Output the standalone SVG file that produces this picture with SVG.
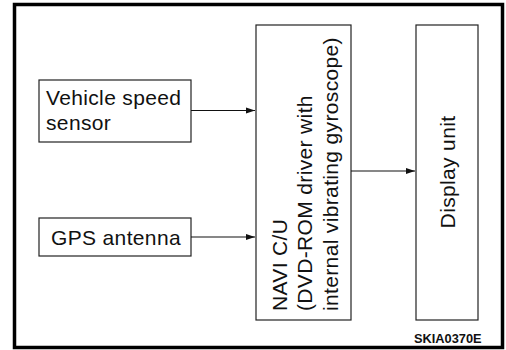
<svg xmlns="http://www.w3.org/2000/svg" width="506" height="350" viewBox="0 0 506 350">
<style>
.box{fill:#fff;stroke:#222;stroke-width:1.2}
.t{font-family:"Liberation Sans",Arial,sans-serif;font-size:21px;letter-spacing:0.35px;fill:#111}
.conn{stroke:#111;stroke-width:1.2;fill:none}
</style>
<defs>
<marker id="ah" markerWidth="10" markerHeight="8" refX="9" refY="3.5" orient="auto" markerUnits="userSpaceOnUse">
<path d="M0,0.5 L9,3.5 L0,6.5 Z" fill="#111"/>
</marker>
</defs>
<rect x="0" y="0" width="506" height="350" fill="#fff"/>
<rect x="14.5" y="4.5" width="488" height="343" fill="none" stroke="#000" stroke-width="3.5"/>
<g id="vss">
<rect class="box" x="39" y="80" width="152" height="62"/>
<text class="t" x="46" y="105">Vehicle speed</text>
<text class="t" x="46" y="130">sensor</text>
</g>
<g id="gps">
<rect class="box" x="39" y="218" width="152" height="38"/>
<text class="t" x="51" y="245">GPS antenna</text>
</g>
<g id="navi">
<rect class="box" x="256" y="25" width="95" height="295"/>
<text class="t" transform="translate(287,311) rotate(-90)">NAVI C/U</text>
<text class="t" transform="translate(312,311) rotate(-90)">(DVD-ROM driver with</text>
<text class="t" transform="translate(338,311) rotate(-90)">internal vibrating gyroscope)</text>
</g>
<g id="display">
<rect class="box" x="416" y="25" width="62" height="295"/>
<text class="t" text-anchor="middle" transform="translate(455,172) rotate(-90)">Display unit</text>
</g>
<g id="connectors">
<line class="conn" x1="191" y1="110.5" x2="255" y2="110.5" marker-end="url(#ah)"/>
<line class="conn" x1="191" y1="237" x2="255" y2="237" marker-end="url(#ah)"/>
<line class="conn" x1="351" y1="171" x2="415" y2="171" marker-end="url(#ah)"/>
</g>
<text x="414" y="343" style="font-family:'Liberation Sans',Arial,sans-serif;font-size:12.8px;font-weight:bold;fill:#111">SKIA0370E</text>
</svg>
